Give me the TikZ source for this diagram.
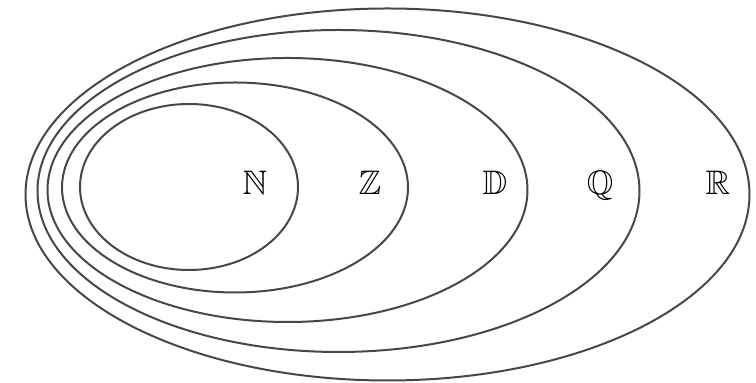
\documentclass[tikz,border=0pt]{standalone}
\usepackage{amssymb}
\begin{document}
\begin{tikzpicture}[
    x=0.5pt, y=-0.5pt,
    set/.style={draw=black!72, line width=1pt},
    setname/.style={inner sep=0pt, font=\fontsize{17}{20}\selectfont}
  ]
  \useasboundingbox (0,0) rectangle (756,383);
  \draw[set] (189,187) ellipse [x radius=54.5pt, y radius=41.5pt];
  \draw[set] (235,187.5) ellipse [x radius=86.5pt, y radius=52.5pt];
  \draw[set] (287.5,190) ellipse [x radius=120pt, y radius=66pt];
  \draw[set] (338.5,191) ellipse [x radius=150.5pt, y radius=80.5pt];
  \draw[set] (387.5,194.5) ellipse [x radius=181pt, y radius=93pt];
  \node[setname] (N) at (255,183) {$\mathbb{N}$};
  \node[setname] (Z) at (370,183) {$\mathbb{Z}$};
  \node[setname] (D) at (495,183) {$\mathbb{D}$};
  \node[setname] (Q) at (600,186) {$\mathbb{Q}$};
  \node[setname] (R) at (718,183) {$\mathbb{R}$};
\end{tikzpicture}
\end{document}
